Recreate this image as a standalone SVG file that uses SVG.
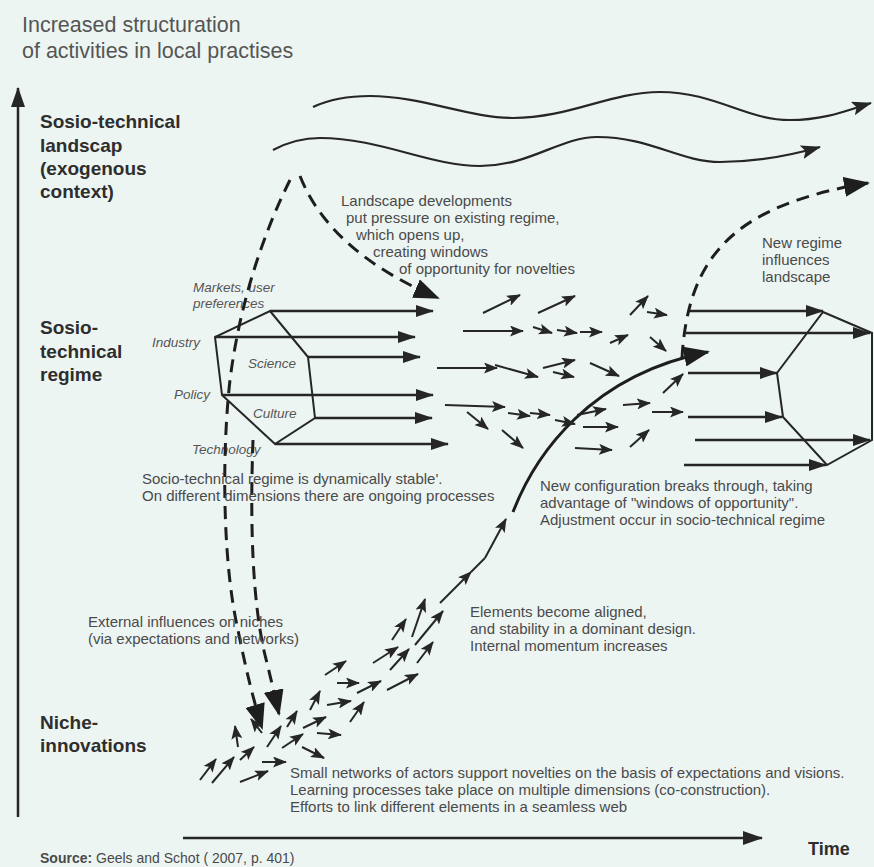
<svg xmlns="http://www.w3.org/2000/svg" width="874" height="867" viewBox="0 0 874 867">
<style>
.t{font-family:"Liberation Sans",Arial,sans-serif;font-size:15px;fill:#4a4a4a}
.it{font-family:"Liberation Sans",Arial,sans-serif;font-size:13.5px;font-style:italic;fill:#555}
.b{font-family:"Liberation Sans",Arial,sans-serif;font-size:19px;font-weight:bold;fill:#2e2e2e}
.ti{font-family:"Liberation Sans",Arial,sans-serif;font-size:21.5px;fill:#555}
.ln{fill:none;stroke:#262626;stroke-width:2.5}
.hx{fill:none;stroke:#262626;stroke-width:2}
.ra{fill:none;stroke:#262626;stroke-width:2.5;marker-end:url(#hx)}
.sa{fill:none;stroke:#262626;stroke-width:2;marker-end:url(#sm)}
.wv{fill:none;stroke:#262626;stroke-width:2.2;marker-end:url(#wv)}
.da{fill:none;stroke:#1e1e1e;stroke-width:3;stroke-dasharray:13 8;marker-end:url(#big)}
.cu{fill:none;stroke:#1e1e1e;stroke-width:3;marker-end:url(#big)}
</style>
<defs>
<marker id="hx" viewBox="0 0 18 12" refX="17" refY="6" markerWidth="18" markerHeight="12" orient="auto" markerUnits="userSpaceOnUse"><path d="M0,0 L18,6 L0,12 z" fill="#262626"/></marker>
<marker id="sm" viewBox="0 0 14 11" refX="13" refY="5.5" markerWidth="14" markerHeight="11" orient="auto" markerUnits="userSpaceOnUse"><path d="M0,0 L14,5.5 L0,11 L3,5.5 z" fill="#262626"/></marker>
<marker id="wv" viewBox="0 0 20 14" refX="19" refY="7" markerWidth="20" markerHeight="14" orient="auto" markerUnits="userSpaceOnUse"><path d="M0,0 L20,7 L0,14 L4,7 z" fill="#262626"/></marker>
<marker id="big" viewBox="0 0 26 20" refX="24" refY="10" markerWidth="26" markerHeight="20" orient="auto" markerUnits="userSpaceOnUse"><path d="M0,0 L26,10 L0,20 z" fill="#1e1e1e"/></marker>
<marker id="ax" viewBox="0 0 20 14" refX="19" refY="7" markerWidth="20" markerHeight="14" orient="auto" markerUnits="userSpaceOnUse"><path d="M0,0 L20,7 L0,14 z" fill="#262626"/></marker>
</defs>
<rect width="874" height="867" fill="#edf5f3"/>

<g id="title">
<text class="ti" x="22" y="32">Increased structuration</text>
<text class="ti" x="22" y="58">of activities in local practises</text>
</g>

<g id="axis-y"><path class="ln" d="M18,817 V88" marker-end="url(#ax)"/></g>
<g id="axis-x"><path class="ln" d="M183,838 H762" marker-end="url(#ax)"/>
<text class="b" x="808" y="855" style="font-size:18px">Time</text></g>

<g id="label-landscape">
<text class="b" x="40" y="128">Sosio-technical</text>
<text class="b" x="40" y="152">landscap</text>
<text class="b" x="40" y="175">(exogenous</text>
<text class="b" x="40" y="198">context)</text>
</g>
<g id="label-regime">
<text class="b" x="40" y="334">Sosio-</text>
<text class="b" x="40" y="358">technical</text>
<text class="b" x="40" y="381">regime</text>
</g>
<g id="label-niche">
<text class="b" x="40" y="729">Niche-</text>
<text class="b" x="40" y="752">innovations</text>
</g>

<g id="landscape-waves">
<path class="wv" d="M313,107 C330,99 350,96 370,96 C420,96 470,118 513,118 C570,118 610,92 660,92 C715,92 745,120 790,120 C825,120 848,110 871,103"/>
<path class="wv" d="M273,150 C288,142 305,138 320,138 C380,138 430,166 480,166 C530,166 560,137 597,137 C650,137 680,162 720,162 C760,162 792,155 820,147"/>
</g>

<g id="regime-left">
<polygon class="hx" points="270,311 308,357 315,418 275,444 222,395 215,337"/>
<path class="ra" d="M270,311 H433"/>
<path class="ra" d="M215,337 H415"/>
<path class="ra" d="M308,357 H420"/>
<path class="ra" d="M222,395 H433"/>
<path class="ra" d="M315,418 H432"/>
<path class="ra" d="M275,444 H448"/>
<text class="it" x="193" y="292">Markets, user</text>
<text class="it" x="193" y="308">preferences</text>
<text class="it" x="152" y="347">Industry</text>
<text class="it" x="248" y="368">Science</text>
<text class="it" x="174" y="399">Policy</text>
<text class="it" x="253" y="418">Culture</text>
<text class="it" x="192" y="454">Technology</text>
</g>

<g id="regime-right">
<polygon class="hx" points="823,312 872,333 872,440 827,465 783,417 777,373"/>
<path class="ra" d="M690,311 H823"/>
<path class="ra" d="M686,333 H870"/>
<path class="ra" d="M688,373 H777"/>
<path class="ra" d="M688,417 H782"/>
<path class="ra" d="M695,440 H870"/>
<path class="ra" d="M684,465 H826"/>
</g>

<g id="connectors">
<path class="da" d="M300,176 Q330,252 438,298"/>
<path class="da" d="M290,180 C265,230 240,300 230,380 C222,450 222,560 238,630 C245,665 252,695 262,728"/>
<path class="da" d="M253,440 C250,520 252,600 265,655 C270,675 274,692 279,714"/>
<path class="da" d="M682,358 C688,255 735,205 868,183"/>
<path class="cu" d="M513,512 C535,455 590,375 708,352"/>
<g id="regime-micro-arrows">
<path class="sa" d="M483,313 L520,295"/>
<path class="sa" d="M538,313 L575,296"/>
<path class="sa" d="M463,331 L523,331"/>
<path class="sa" d="M533,327 L552,333"/>
<path class="sa" d="M557,330 L577,333"/>
<path class="sa" d="M580,332 L602,332"/>
<path class="sa" d="M610,343 L628,335"/>
<path class="sa" d="M630,315 L648,296"/>
<path class="sa" d="M647,312 L667,315"/>
<path class="sa" d="M650,337 L666,351"/>
<path class="sa" d="M437,368 L497,368"/>
<path class="sa" d="M495,365 L538,377"/>
<path class="sa" d="M543,368 L575,360"/>
<path class="sa" d="M553,372 L574,377"/>
<path class="sa" d="M590,363 L619,376"/>
<path class="sa" d="M445,405 L505,407"/>
<path class="sa" d="M467,412 L488,429"/>
<path class="sa" d="M508,413 L530,416"/>
<path class="sa" d="M530,413 L550,415"/>
<path class="sa" d="M502,430 L523,448"/>
<path class="sa" d="M555,420 L575,424"/>
<path class="sa" d="M577,415 L606,409"/>
<path class="sa" d="M583,427 L618,427"/>
<path class="sa" d="M575,448 L612,450"/>
<path class="sa" d="M623,405 L650,403"/>
<path class="sa" d="M630,447 L649,430"/>
<path class="sa" d="M652,412 L683,412"/>
<path class="sa" d="M663,393 L683,374"/>
</g>
<g id="niche-micro-arrows">
<path class="sa" d="M200,780 L216,759"/>
<path class="sa" d="M212,783 L234,757"/>
<path class="sa" d="M240,760 L254,747"/>
<path class="sa" d="M240,782 L268,771"/>
<path class="sa" d="M262,762 L286,762"/>
<path class="sa" d="M238,747 L235,726"/>
<path class="sa" d="M262,733 L251,719"/>
<path class="sa" d="M267,747 L281,726"/>
<path class="sa" d="M282,748 L303,734"/>
<path class="sa" d="M302,747 L324,758"/>
<path class="sa" d="M287,727 L297,711"/>
<path class="sa" d="M303,728 L326,717"/>
<path class="sa" d="M317,733 L341,735"/>
<path class="sa" d="M310,710 L320,691"/>
<path class="sa" d="M327,705 L351,701"/>
<path class="sa" d="M350,722 L364,702"/>
<path class="sa" d="M325,675 L346,661"/>
<path class="sa" d="M337,683 L359,683"/>
<path class="sa" d="M357,693 L381,681"/>
<path class="sa" d="M387,690 L418,674"/>
<path class="sa" d="M373,663 L398,647"/>
<path class="sa" d="M390,670 L409,649"/>
<path class="sa" d="M417,663 L433,642"/>
<path class="sa" d="M392,640 L406,619"/>
<path class="sa" d="M412,637 L425,599"/>
<path class="sa" d="M415,645 L443,611"/>
<path class="sa" d="M440,603 L471,572"/>
<path class="ln" style="stroke-width:2" d="M471,572 L485,558"/>
<path class="sa" d="M485,558 L506,519"/>
</g>
</g>

<g id="text-landscape-pressure">
<text class="t" x="341" y="206">Landscape developments</text>
<text class="t" x="346" y="223">put pressure on existing regime,</text>
<text class="t" x="356" y="240">which opens up,</text>
<text class="t" x="373" y="257">creating windows</text>
<text class="t" x="399" y="274">of opportunity for novelties</text>
</g>
<g id="text-new-regime">
<text class="t" x="762" y="248">New regime</text>
<text class="t" x="762" y="265">influences</text>
<text class="t" x="762" y="282">landscape</text>
</g>
<g id="text-regime-stable">
<text class="t" x="142" y="484">Socio-technical regime is dynamically stable'.</text>
<text class="t" x="142" y="501">On different dimensions there are ongoing processes</text>
</g>
<g id="text-breakthrough">
<text class="t" x="540" y="491">New configuration breaks through, taking</text>
<text class="t" x="540" y="508">advantage of "windows of opportunity".</text>
<text class="t" x="540" y="525">Adjustment occur in socio-technical regime</text>
</g>
<g id="text-external">
<text class="t" x="88" y="627">External influences on niches</text>
<text class="t" x="88" y="644">(via expectations and networks)</text>
</g>
<g id="text-aligned">
<text class="t" x="470" y="617">Elements become aligned,</text>
<text class="t" x="470" y="634">and stability in a dominant design.</text>
<text class="t" x="470" y="651">Internal momentum increases</text>
</g>
<g id="text-niche">
<text class="t" x="290" y="778">Small networks of actors support novelties on the basis of expectations and visions.</text>
<text class="t" x="290" y="795">Learning processes take place on multiple dimensions (co-construction).</text>
<text class="t" x="290" y="812">Efforts to link different elements in a seamless web</text>
</g>
<g id="source">
<text class="t" x="40" y="863" style="font-size:14px"><tspan font-weight="bold">Source:</tspan> Geels and Schot ( 2007, p. 401)</text>
</g>
</svg>
